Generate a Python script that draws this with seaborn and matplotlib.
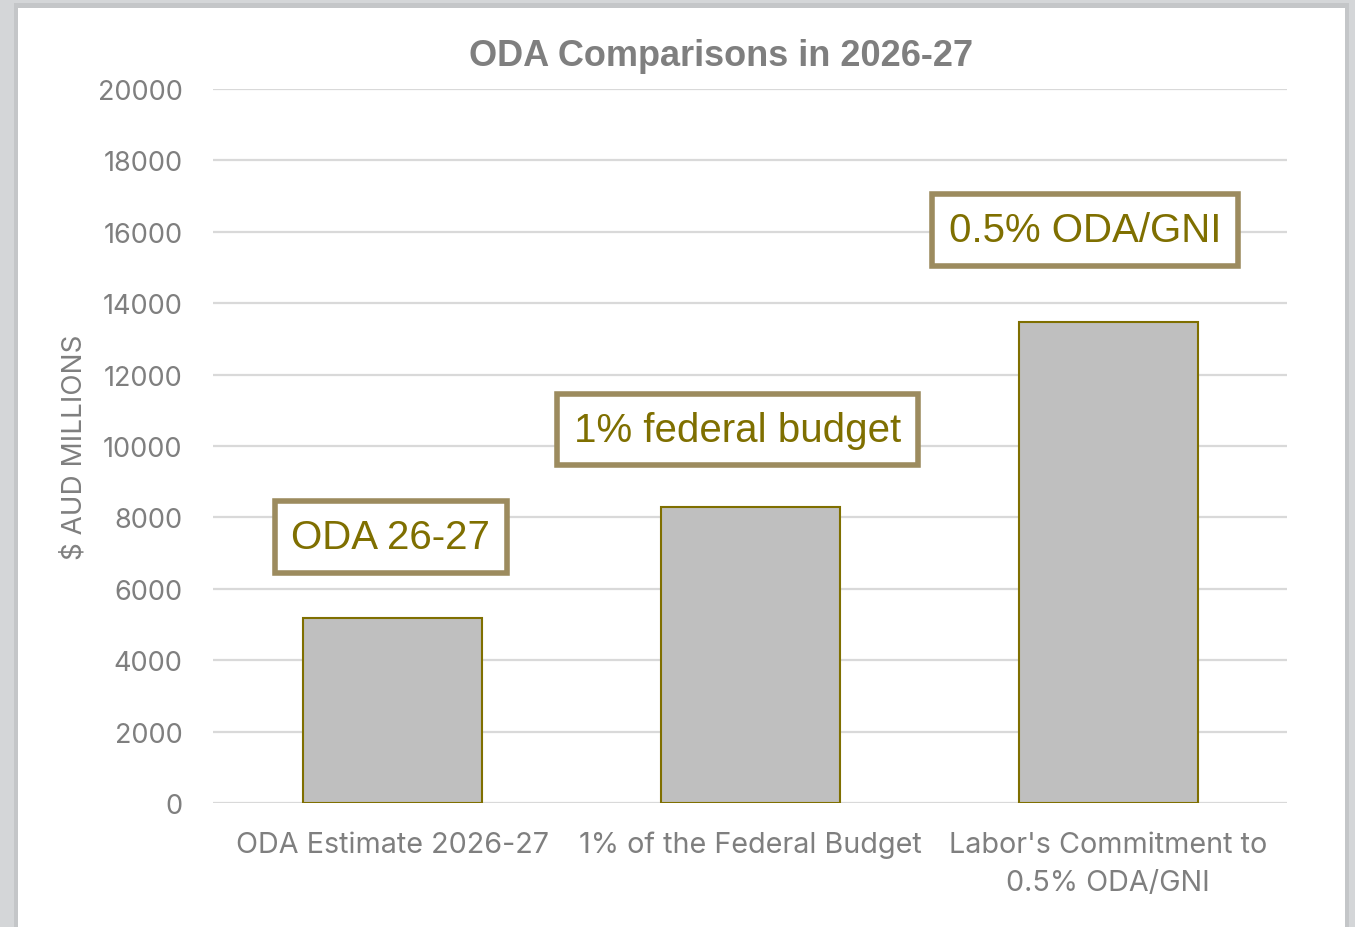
import matplotlib
matplotlib.use("Agg")
import matplotlib.pyplot as plt
import seaborn as sns
import pandas as pd
from matplotlib.patches import Rectangle

categories = ["ODA Estimate 2026-27", "1% of the Federal Budget", "Labor's Commitment to\n0.5% ODA/GNI"]
values = [5180, 8290, 13480]
box_labels = ["ODA 26-27", "1% federal budget", "0.5% ODA/GNI"]
box_y = [7440, 10460, 16050]
yticks = [0, 2000, 4000, 6000, 8000, 10000, 12000, 14000, 16000, 18000, 20000]

sns.set_theme(style="white")
plt.rcParams['font.family'] = ['Liberation Sans', 'DejaVu Sans']
tick_font = ['Inter', 'Liberation Sans', 'DejaVu Sans']

W, H = 1355, 928
fig = plt.figure(figsize=(W / 100, H / 100), dpi=100)
fig.patch.set_facecolor("#d4d6d8")
fig.patches.append(Rectangle((14 / W, 0), (1349 - 14) / W, 1 - 4 / H, transform=fig.transFigure,
                             facecolor="#c4c6c8", edgecolor="none", zorder=0))
fig.patches.append(Rectangle((18 / W, 0), (1345 - 18) / W, 1 - 9 / H, transform=fig.transFigure,
                             facecolor="white", edgecolor="none", zorder=1))

ax = fig.add_axes([213 / W, 1 - 804 / H, (1287 - 213) / W, (804 - 90) / H])
ax.set_facecolor("none")
ax.set_zorder(2)

df = pd.DataFrame({"cat": categories, "val": values})
sns.barplot(data=df, x="cat", y="val", ax=ax, color="#bfbfbf", width=0.5,
            edgecolor="#7f6f00", linewidth=1.5, saturation=1, zorder=3)

ax.set_ylim(0, 20000)
ax.set_xlim(-0.5, 2.5)
ax.set_yticks(yticks)
ax.set_yticklabels([str(t) for t in yticks])
ax.grid(axis="y", color="#d9d9d9", linewidth=1.6, zorder=0)
ax.set_axisbelow(True)
for s in ax.spines.values():
    s.set_visible(False)
ax.tick_params(axis="both", length=0, colors="#7f7f7f")
ax.tick_params(axis="y", pad=22, labelsize=19.5)
ax.tick_params(axis="x", pad=20, labelsize=20.7)
for lbl in ax.get_xticklabels() + ax.get_yticklabels():
    lbl.set_family(tick_font)
for lbl in ax.get_xticklabels():
    lbl.set_linespacing(1.52)
ax.set_xlabel("")
ax.set_ylabel("$ AUD MILLIONS", color="#7f7f7f", fontsize=20, family=tick_font)
ax.yaxis.set_label_coords(-0.117, 0.5)

offsets = [-0.003, -0.036, -0.064]
for i, (txt, yy) in enumerate(zip(box_labels, box_y)):
    ax.text(i + offsets[i], yy, txt,
            ha="center", va="center", fontsize=29, color="#7f6f00", zorder=5,
            bbox=dict(boxstyle="square,pad=0.42", facecolor="white",
                      edgecolor="#9c8b5e", linewidth=4))

fig.text(721 / W, 1 - 56 / H, "ODA Comparisons in 2026-27", ha="center", va="center",
         fontsize=26, fontweight="bold", color="#7f7f7f")

fig.savefig("out.png", dpi=100, facecolor=fig.get_facecolor())
